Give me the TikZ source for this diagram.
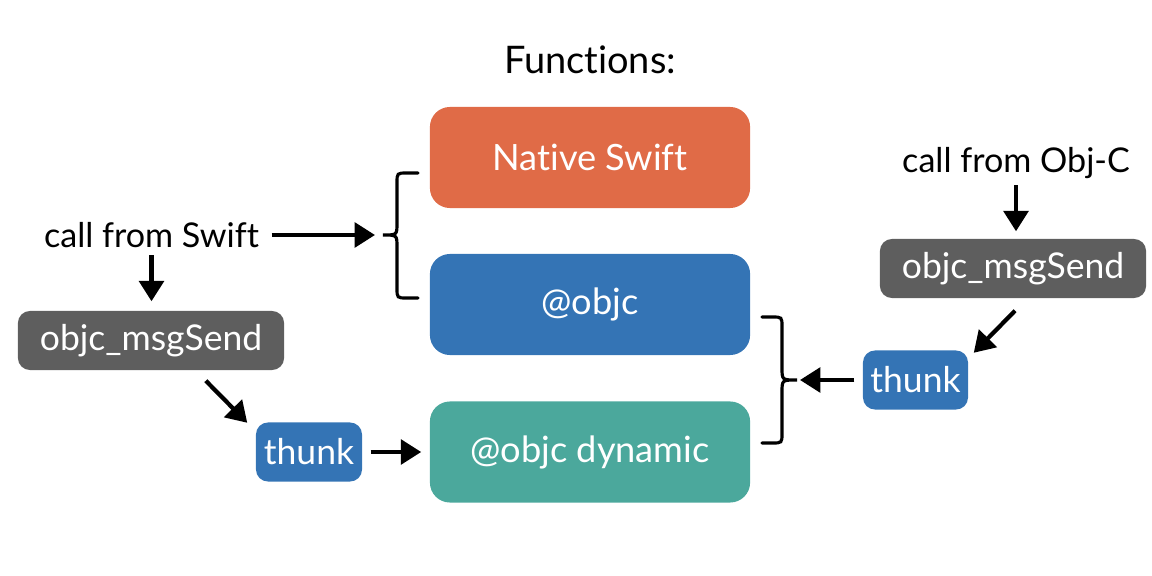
\documentclass[tikz,border=0pt]{standalone}
\usepackage{fontspec}
\setmainfont{Lato}[Ligatures={NoCommon}]
\usetikzlibrary{arrows.meta,calc}
\definecolor{cOrange}{HTML}{E06B47}
\definecolor{cBlue}{HTML}{3474B5}
\definecolor{cTeal}{HTML}{4BA89C}
\definecolor{cGray}{HTML}{5E5E5E}
\begin{document}
\begin{tikzpicture}[x=0.01cm,y=-0.01cm,
  every node/.style={inner sep=0pt, font=\fontsize{9.7}{11}\selectfont},
  bigbox/.style={rounded corners=0.2cm, minimum width=3.2cm, minimum height=1.01cm, text=white, font=\fontsize{10.3}{12}\selectfont},
  smallbox/.style={rounded corners=0.12cm, minimum height=0.59cm, text=white, font=\fontsize{10.1}{12}\selectfont},
  arr/.style={-{Triangle[length=5.8pt,width=7pt]}, line width=1.2pt},
  bracestyle/.style={line width=0.9pt, line cap=round}]
\useasboundingbox (0,0) rectangle (1152,576);
\node[font=\fontsize{10.8}{13}\selectfont] (title) at (590,60) {Functions:};
\node[bigbox, fill=cOrange] (native) at (590,157.5) {Native Swift};
\node[bigbox, fill=cBlue] (objc) at (590,304.5) {@objc};
\node[bigbox, fill=cTeal] (dyn) at (590,452) {@objc dynamic};
\node (cs) at (151.5,235) {call from Swift};
\node[smallbox, fill=cGray, minimum width=2.66cm] (msgL) at (151,340.5) {objc\_msgSend};
\node[smallbox, fill=cBlue, minimum width=1.06cm] (thunkL) at (309,452) {thunk};
\node (co) at (1016,163) {call from Obj-C};
\node[smallbox, fill=cGray, minimum width=2.66cm] (msgR) at (1013,268.5) {objc\_msgSend};
\node[smallbox, fill=cBlue, minimum width=1.05cm] (thunkR) at (915.5,380) {thunk};
% braces
\coordinate (lbrace) at (383,235);
\coordinate (rbrace) at (797,380);
\draw[bracestyle] (418,173) -- (407,173) .. controls (397,173) .. (397,183) -- (397,223)
  .. controls (397,235) .. (lbrace) .. controls (397,235) .. (397,247) -- (397,288)
  .. controls (397,298) .. (407,298) -- (418,298);
\draw[bracestyle] (762,317) -- (772,317) .. controls (782,317) .. (782,327) -- (782,368)
  .. controls (782,380) .. (rbrace) .. controls (782,380) .. (782,392) -- (782,433)
  .. controls (782,443) .. (772,443) -- (762,443);
% arrows
\draw[arr, shorten <=0.12cm, shorten >=0.08cm] (cs.east) -- (lbrace);
\draw[arr, shorten <=0.07cm, shorten >=0.09cm] (cs.south) -- (cs.south |- msgL.north);
\draw[arr] ($(msgL.south east)+(-79,10)$) -- ($(thunkL.north west)+(-8,1)$);
\draw[arr, shorten <=0.08cm, shorten >=0.08cm] (thunkL.east) -- (dyn.west |- thunkL.east);
\draw[arr, shorten <=0.06cm, shorten >=0.07cm] (co.south) -- (co.south |- msgR.north);
\draw[arr] ($(msgR.south)+(2,12)$) -- ($(thunkR.north east)+(5,3)$);
\draw[arr, shorten <=0.08cm, shorten >=0.03cm] (thunkR.west) -- (rbrace);
\end{tikzpicture}
\end{document}
